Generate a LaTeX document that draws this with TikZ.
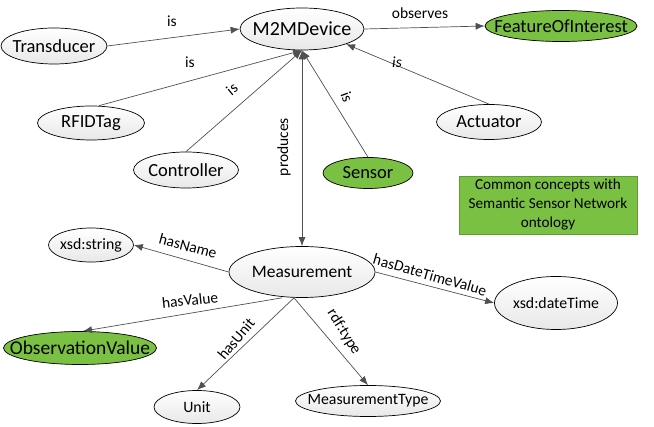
\documentclass[tikz,border=0pt]{standalone}
\usepackage{fontspec}
\setmainfont{Carlito}
\usetikzlibrary{shapes.geometric,arrows.meta}
\definecolor{grn}{RGB}{122,192,66}
\definecolor{edge}{RGB}{80,80,80}
\newcommand\ct[1]{\makebox[0pt][c]{#1}}
\tikzset{
  ell/.style={ellipse,draw=black,line width=0.7pt,top color=white,bottom color=gray!18,inner sep=0pt},
  big/.style={ell,font=\fontsize{18.5}{20}\selectfont},
  small/.style={ell,font=\fontsize{15.8}{18}\selectfont},
  green/.style={draw=black,line width=0.7pt,fill=grn,top color=grn,bottom color=grn},
  lbl/.style={font=\fontsize{15.5}{18}\selectfont,inner sep=1pt},
  arr/.style={draw=edge,line width=0.7pt,-{Latex[length=9pt,width=7pt]}},
  darr/.style={draw=edge,line width=0.7pt,{Latex[length=9pt,width=7pt]}-{Latex[length=9pt,width=7pt]}},
}
\begin{document}
\begin{tikzpicture}[x=1pt,y=-1pt]
\useasboundingbox (0,0) rectangle (654,427);
% nodes
\node[big,font=\fontsize{20}{22}\selectfont,minimum width=124pt,minimum height=42pt] (m2m) at (302,29) {\ct{M2MDevice}};
\node[big,green,minimum width=152pt,minimum height=31pt] (foi) at (561,26) {\ct{FeatureOfInterest}};
\node[big,minimum width=106pt,minimum height=36pt] (trans) at (54,46) {\ct{Transducer}};
\node[big,minimum width=107pt,minimum height=34pt] (rfid) at (91,123) {\ct{RFIDTag}};
\node[big,minimum width=105pt,minimum height=36pt] (ctrl) at (186,170) {\ct{Controller}};
\node[big,green,minimum width=90pt,minimum height=31pt] (sens) at (368,173) {\ct{Sensor}};
\node[big,minimum width=105pt,minimum height=35pt] (act) at (489,122) {\ct{Actuator}};
\node[draw=grn!80!black,fill=grn,minimum width=178pt,minimum height=58pt,align=center,
      font=\fontsize{15.2}{19}\selectfont,inner sep=0pt] (box) at (548,205)
      {Common concepts with\\Semantic Sensor Network\\ontology};
\node[big,font=\fontsize{17.5}{20}\selectfont,minimum width=146pt,minimum height=51pt] (meas) at (302,272) {\ct{Measurement}};
\node[small,minimum width=85pt,minimum height=34pt] (str) at (91,245) {\ct{xsd:string}};
\node[big,green,font=\fontsize{19.5}{21}\selectfont,minimum width=153pt,minimum height=33pt] (obs) at (80,348) {\ct{ObservationValue}};
\node[small,minimum width=86pt,minimum height=33pt] (unit) at (197,407) {\ct{Unit}};
\node[small,minimum width=145pt,minimum height=31pt] (mtype) at (368,401) {\ct{MeasurementType}};
\node[small,minimum width=123pt,minimum height=53pt] (dt) at (556,303) {\ct{xsd:dateTime}};
% edges
\coordinate (hub) at ([yshift=-1pt]m2m.south);
\draw[arr] (trans.east) -- (m2m.west);
\draw[arr] (rfid.north) ++(8pt,0) coordinate (rfidn) (rfidn) -- (m2m.south);
\draw[arr] (ctrl.north) -- (m2m.south);
\draw[arr] (sens.north) -- (m2m.south);
\draw[arr] (act.north) -- (m2m.south east);
\draw[arr] (m2m.east) -- (foi.west);
\draw[darr] (m2m.south) -- (meas.north);
\draw[arr] (meas.west) -- (str.east);
\coordinate (measv) at ([xshift=-20pt]meas.south);
\coordinate (obsn) at ([xshift=3pt]obs.north);
\draw[arr] (measv) -- (obsn);
\coordinate (measu) at ([xshift=-8pt]meas.south);
\draw[arr] (measu) -- (unit.north);
\draw[arr] (measu) -- (mtype.north);
\draw[arr] (meas.east) -- (dt.west);
% labels
\node[lbl] (l1) at (172,21) {is};
\node[lbl] (l2) at (190,62) {is};
\node[lbl,rotate=40] (l3) at (232,89) {is};
\node[lbl,rotate=-70] (l4) at (347,97) {is};
\node[lbl] (l5) at (397,62) {\itshape is};
\node[lbl] (l6) at (420,13) {observes};
\node[lbl,rotate=90] (l7) at (284,147) {produces};
\node[lbl,rotate=-15] (l8) at (188,246) {hasName};
\node[lbl,rotate=6] (l9) at (190,300) {hasValue};
\node[lbl,rotate=50] (l10) at (236,339) {hasUnit};
\node[lbl,rotate=-58] (l11) at (344,332) {rdf:type};
\node[lbl,rotate=-16] (l12) at (430,275) {hasDateTimeValue};
\end{tikzpicture}
\end{document}
